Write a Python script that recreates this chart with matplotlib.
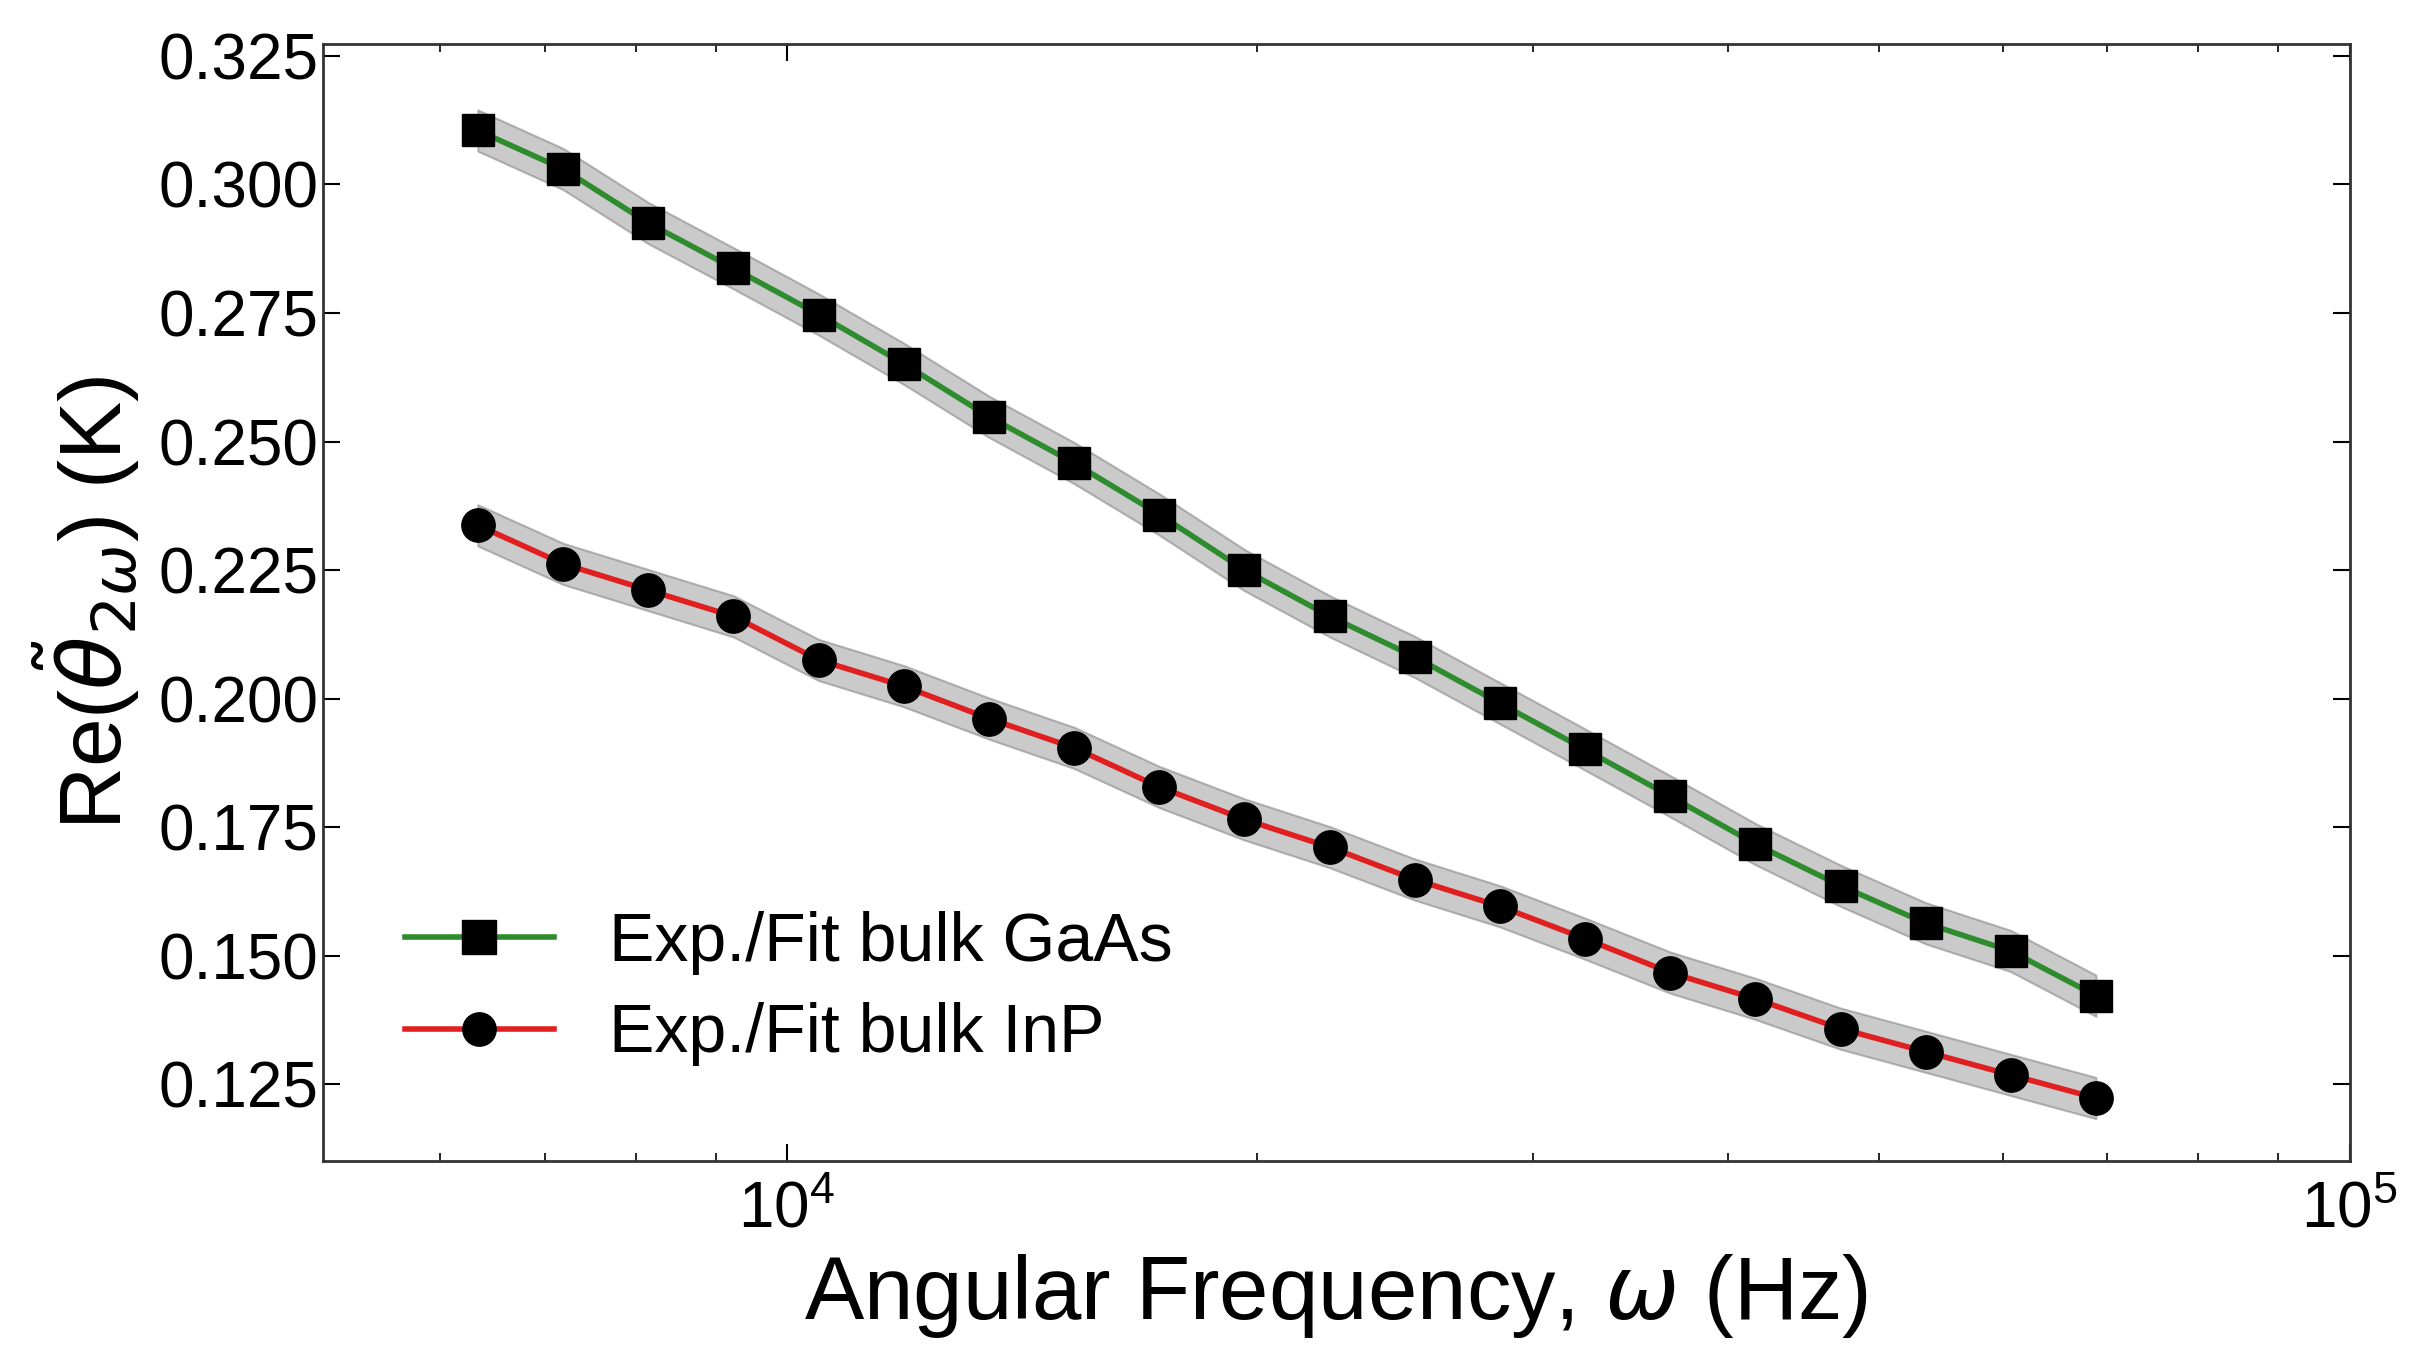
import numpy as np
import matplotlib.pyplot as plt

plt.rcParams['font.family'] = ['Liberation Sans', 'DejaVu Sans']
plt.rcParams['mathtext.fontset'] = 'dejavusans'

# angular frequency (Hz)
freq = [6340, 7190, 8150, 9240, 10480, 11880, 13470, 15270, 17310, 19620,
        22250, 25220, 28590, 32410, 36750, 41660, 47230, 53550, 60700, 68820]
gaas = [0.3105, 0.3030, 0.2925, 0.2837, 0.2747, 0.2651, 0.2548, 0.2458, 0.2358, 0.2250,
        0.2160, 0.2081, 0.1991, 0.1901, 0.1810, 0.1717, 0.1636, 0.1563, 0.1509, 0.1422]
inp = [0.2337, 0.2262, 0.2211, 0.2160, 0.2075, 0.2024, 0.1961, 0.1904, 0.1828, 0.1765,
       0.1711, 0.1648, 0.1596, 0.1533, 0.1467, 0.1416, 0.1358, 0.1313, 0.1268, 0.1223]
band = 0.004

fig = plt.figure(figsize=(24.11, 13.63), dpi=100)
ax = fig.add_axes([0.134, 0.148, 0.8405, 0.82])

f = np.array(freq)
for y, col, mk, lab in [(gaas, '#2e8b2e', 's', 'Exp./Fit bulk GaAs'),
                        (inp, '#e02020', 'o', 'Exp./Fit bulk InP')]:
    y = np.array(y)
    ax.fill_between(f, y - band, y + band, color='#a8a8a8', alpha=0.6, lw=1.5, edgecolor='#888888')
    ax.plot(f, y, color=col, lw=4, zorder=3)
    ax.plot(f, y, mk, color='black', ms=23 if mk == 's' else 24, zorder=4)
    ax.plot([], [], color=col, lw=4, marker=mk, mfc='black', mec='black', ms=24, label=lab)

ax.set_xscale('log')
ax.set_xlim(5047, 1e5)
ax.set_ylim(0.110, 0.3274)
ax.set_yticks(np.arange(0.125, 0.326, 0.025))
ax.set_yticklabels(['%.3f' % v for v in np.arange(0.125, 0.326, 0.025)])
ax.tick_params(axis='both', which='both', direction='in', top=True, right=True, labelsize=46)
ax.tick_params(which='major', length=12, width=1.5)
ax.tick_params(which='minor', length=6, width=1.2)
ax.tick_params(axis='x', pad=14)
for s in ax.spines.values():
    s.set_linewidth(2)
    s.set_color('#333333')

ax.set_xlabel(r'Angular Frequency, $\omega$ (Hz)', fontsize=64, labelpad=8)
ax.set_ylabel(r'Re($\tilde{\theta}_{2\omega}$) (K)', fontsize=63, labelpad=12)
ax.legend(loc='lower left', bbox_to_anchor=(0.01, 0.03), fontsize=49, frameon=False,
          handlelength=2.2, labelspacing=0.4)

fig.savefig('out.png', dpi=100)
